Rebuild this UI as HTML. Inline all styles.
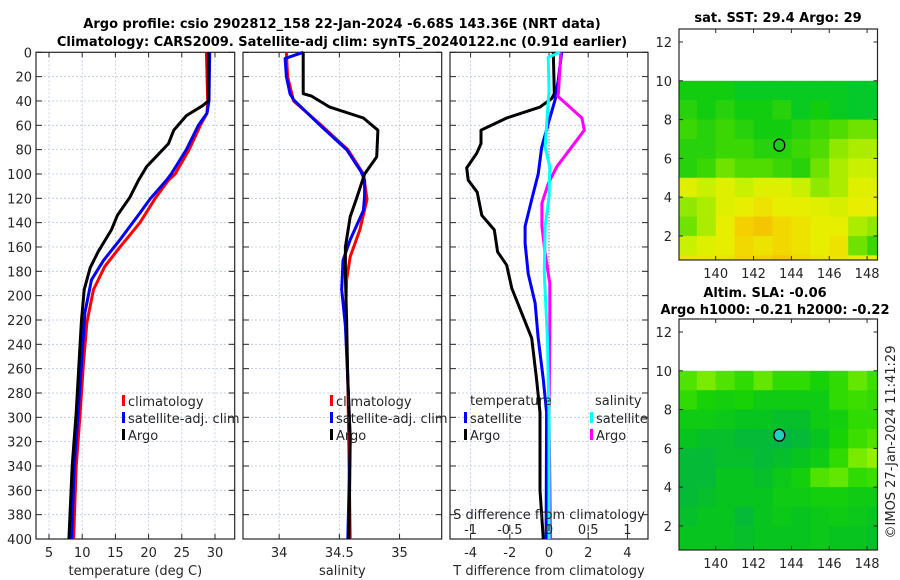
<!DOCTYPE html>
<html><head><meta charset="utf-8"><style>
html,body{margin:0;padding:0;background:#fff;}
svg{display:block;font-family:"DejaVu Sans","Liberation Sans",sans-serif;}
</style></head><body>
<svg id="c" width="900" height="580" viewBox="0 0 900 580"></svg>
<script>
// ---- data ----
const tDepth = [0,40,44,52,64,75,94,105,119,134,146,164,177,195,220,247,296,340,400];
const tArgo  = [29.0,29.0,28.1,25.7,23.8,23.0,19.7,18.5,17.2,15.3,14.4,12.4,11.2,10.3,9.9,9.6,9.1,8.5,8.0];
const tSatDepth = [0,40,50,60,80,100,105,120,132,154,171,187,214,255,296,340,400];
const tSat = [29.2,29.1,28.8,27.5,25.7,23.4,22.7,20.3,18.7,15.7,13.2,11.4,10.4,9.9,9.4,8.8,8.4];
const tClimDepth = [0,40,50,60,80,100,105,120,140,160,176,195,222,255,296,340,400];
const tClim = [28.7,28.9,28.8,27.8,26.1,24.0,23.0,21.0,18.7,15.7,13.4,11.7,10.7,10.2,9.7,9.1,8.7];
const sArgoDepth = [0,34,36,45,54,64,86,100,121,135,160,184,220,269,318,400];
const sArgo = [34.2,34.2,34.27,34.42,34.70,34.82,34.81,34.71,34.64,34.59,34.55,34.55,34.56,34.57,34.59,34.58];
const sSatDepth = [0,5,20,34,39,60,80,98,105,118,130,154,171,195,225,269,318,400];
const sSat = [34.2,34.05,34.06,34.09,34.12,34.34,34.56,34.68,34.71,34.71,34.70,34.59,34.53,34.52,34.55,34.57,34.59,34.57];
const sClimDepth = [0,20,40,60,80,100,121,146,168,187,220,269,400];
const sClim = [34.06,34.07,34.12,34.35,34.57,34.70,34.73,34.67,34.59,34.56,34.55,34.57,34.59];
const dArgoDepth = [0,34,38,45,54,64,75,83,95,105,115,134,146,164,175,194,235,269,296,360,400];
const dTArgo = [0.22,0.27,0.14,-0.46,-2.16,-3.47,-3.47,-3.69,-4.2,-4.12,-3.66,-3.43,-2.79,-2.62,-2.16,-1.9,-0.88,-0.63,-0.46,-0.46,-0.29];
const dTSatDepth = [0,23,39,58,78,100,119,143,157,182,206,235,269,296,400];
const dTSat = [0.65,0.47,0.31,-0.03,-0.37,-0.55,-0.85,-1.22,-1.22,-1.06,-0.71,-0.55,-0.29,-0.12,-0.15];
const dSSatDepth = [0,4,31,78,94,119,143,182,235,300,400];
const dSSat = [0.14,-0.01,0.0,-0.05,0.01,0.0,-0.05,-0.06,-0.02,0.0,0.0];
const dSArgoDepth = [0,34,36,54,64,94,108,124,143,165,190,235,300,400];
const dSArgo = [0.15,0.12,0.11,0.42,0.45,0.10,-0.01,-0.09,-0.09,-0.05,0.01,0.01,0.0,0.02];
const depthTicks = [0,20,40,60,80,100,120,140,160,180,200,220,240,260,280,300,320,340,360,380,400];
const tTicks = [5,10,15,20,25,30];
const sTicks = [34,34.5,35];
const dTTicks = [-4,-2,0,2,4];
const dSTicks = [-1,-0.5,0,0.5,1];
const mapLonTicks = [140,142,144,146,148];
const mapLatTicks = [2,4,6,8,10,12];
const mapLats = [10,9,8,7,6,5,4,3,2,1];   // top edge of each 1-deg row
const mapLons = [138,139,140,141,142,143,144,145,146,147,148];
const sstGrid = [
 [0.3,0.3,0.3,0.25,0.25,0.25,0.25,0.25,0.25,0.22,0.22],
 [0.35,0.3,0.35,0.3,0.3,0.35,0.25,0.3,0.25,0.22,0.22],
 [0.4,0.35,0.4,0.35,0.3,0.3,0.35,0.4,0.45,0.5,0.5],
 [0.35,0.35,0.4,0.4,0.35,0.35,0.4,0.45,0.55,0.6,0.6],
 [0.35,0.4,0.5,0.45,0.45,0.4,0.35,0.5,0.6,0.65,0.65],
 [0.7,0.65,0.7,0.65,0.7,0.7,0.65,0.55,0.6,0.7,0.7],
 [0.55,0.6,0.7,0.72,0.75,0.72,0.72,0.7,0.68,0.72,0.72],
 [0.5,0.6,0.72,0.8,0.82,0.78,0.75,0.72,0.72,0.6,0.55],
 [0.65,0.7,0.72,0.78,0.75,0.78,0.75,0.72,0.75,0.5,0.4],
 [0.75,0.75,0.75,0.8,0.8,0.82,0.78,0.75,0.75,0.72,0.72]];
const slaGrid = [
 [0.6,0.7,0.6,0.5,0.65,0.5,0.5,0.4,0.5,0.65,0.55],
 [0.5,0.4,0.35,0.4,0.3,0.3,0.3,0.3,0.5,0.55,0.5],
 [0.3,0.3,0.25,0.2,0.2,0.15,0.15,0.3,0.35,0.5,0.5],
 [0.2,0.15,0.15,0.1,0.1,0.05,0.1,0.2,0.4,0.55,0.6],
 [0.1,0.1,0.15,0.15,0.1,0.15,0.2,0.3,0.5,0.7,0.75],
 [0.1,0.1,0.2,0.2,0.15,0.25,0.35,0.6,0.65,0.5,0.55],
 [0.1,0.15,0.2,0.2,0.2,0.3,0.3,0.35,0.35,0.3,0.3],
 [0.15,0.2,0.2,0.1,0.2,0.25,0.2,0.25,0.3,0.25,0.2],
 [0.2,0.2,0.2,0.15,0.2,0.2,0.2,0.25,0.2,0.2,0.15],
 [0.2,0.2,0.2,0.15,0.2,0.2,0.2,0.25,0.2,0.2,0.15]];
const argoLon = 143.36, argoLat = 6.68;

// ---- helpers ----
const NS='http://www.w3.org/2000/svg';
const svg=document.getElementById('c');
function mk(tag,attrs,parent){const e=document.createElementNS(NS,tag);for(const k in attrs)e.setAttribute(k,attrs[k]);(parent||svg).appendChild(e);return e;}
function txt(s,x,y,o,parent){const e=mk('text',Object.assign({x:x,y:y,'font-size':13,fill:'#262626'},o||{}),parent);e.textContent=s;return e;}
const Y0=52.3, Y1=539;
const yD=d=>Y0+(d/400)*(Y1-Y0);
function lin(d0,d1,r0,r1){return v=>r0+(v-d0)/(d1-d0)*(r1-r0);}

function panel(name,x0,x1,xs,ticks,tickFmt,showY,xlabel){
  const g=mk('g',{});
  
  
  ticks.forEach(t=>{const x=xs(t);mk('line',{x1:x,x2:x,y1:Y0,y2:Y1,stroke:'#b8c4e0','stroke-width':0.8,'stroke-dasharray':'2,2'},g);
    mk('line',{x1:x,x2:x,y1:Y1,y2:Y1-5,stroke:'#262626'},g);mk('line',{x1:x,x2:x,y1:Y0,y2:Y0+5,stroke:'#262626'},g);
    const l=txt(tickFmt(t),x,Y1+18,{'text-anchor':'middle'},g);});
  depthTicks.forEach(d=>{const y=yD(d);mk('line',{x1:x0,x2:x1,y1:y,y2:y,stroke:'#b8c4e0','stroke-width':0.8,'stroke-dasharray':'2,2'},g);
    mk('line',{x1:x0,x2:x0+6,y1:y,y2:y,stroke:'#262626'},g);mk('line',{x1:x1,x2:x1-6,y1:y,y2:y,stroke:'#262626'},g);
    if(showY){const l=txt(String(d),x0-4,y+5,{'text-anchor':'end'},g);}});
  mk('rect',{x:x0,y:Y0,width:x1-x0,height:Y1-Y0,fill:'none',stroke:'#262626','stroke-width':1.2},g);
  const xl=txt(xlabel,(x0+x1)/2,Y1+36,{'text-anchor':'middle'},g);
  
  return g;
}
function series(name,vals,depths,xs,color,parent){
  const pts=vals.map((v,i)=>xs(v).toFixed(1)+','+yD(depths[i]).toFixed(1)).join(' ');
  const p=mk('polyline',{points:pts,fill:'none',stroke:color,'stroke-width':3,'stroke-linejoin':'round'},parent);
  
  
}
function legendEntry(name,label,x,y,color,parent){
  const g=mk('g',{},parent);
  
  
  mk('rect',{x:x,y:y-10,width:3,height:11,fill:color},g);
  txt(label,x+6,y+1,{},g);
}

// titles
const t1=txt('Argo profile: csio 2902812_158 22-Jan-2024 -6.68S 143.36E (NRT data)',342,28,{'text-anchor':'middle','font-weight':'bold','fill':'#000'});

const t2=txt('Climatology: CARS2009. Satellite-adj clim: synTS_20240122.nc (0.91d earlier)',342,46,{'text-anchor':'middle','font-weight':'bold','fill':'#000'});


// panel 1 temperature
const xT=lin(3.04,32.97,36,234.7);
const p1=panel('temperature-panel',36,234.7,xT,tTicks,String,true,'temperature (deg C)');
series('temp-climatology-line',tClim,tClimDepth,xT,'#ff0000',p1);
series('temp-satellite-line',tSat,tSatDepth,xT,'#0000ff',p1);
series('temp-argo-line',tArgo,tDepth,xT,'#000000',p1);
legendEntry('legend-climatology','climatology',122,405,'#ff0000',p1);
legendEntry('legend-satellite-adj','satellite-adj. clim',122,422,'#0000ff',p1);
legendEntry('legend-argo','Argo',122,439,'#000000',p1);

// panel 2 salinity
const xS=lin(33.7,35.35,243,441.7);
const p2=panel('salinity-panel',243,441.7,xS,sTicks,String,false,'salinity');
series('sal-climatology-line',sClim,sClimDepth,xS,'#ff0000',p2);
series('sal-satellite-line',sSat,sSatDepth,xS,'#0000ff',p2);
series('sal-argo-line',sArgo,sArgoDepth,xS,'#000000',p2);
legendEntry('legend-climatology-2','climatology',330,405,'#ff0000',p2);
legendEntry('legend-satellite-adj-2','satellite-adj. clim',330,422,'#0000ff',p2);
legendEntry('legend-argo-2','Argo',330,439,'#000000',p2);

// panel 3 differences
const xDT=lin(-5.05,5.05,450,648);
const xDS=lin(-1.2625,1.2625,450,648);
const p3=panel('difference-panel',450,648,xDT,dTTicks,String,false,'T difference from climatology');
mk('line',{x1:xDT(0),x2:xDT(0),y1:yD(0),y2:Y1,stroke:'#5a4a3a','stroke-width':1,'stroke-dasharray':'1,2'},p3);
series('dT-argo-line',dTArgo,dArgoDepth,xDT,'#000000',p3);
series('dT-satellite-line',dTSat,dTSatDepth,xDT,'#0000ff',p3);
series('dS-argo-line',dSArgo,dSArgoDepth,xDS,'#ff00ff',p3);
series('dS-satellite-line',dSSat,dSSatDepth,xDS,'#00ffff',p3);
const tl=txt('temperature',470,405,{},p3);
const sl=txt('salinity',595,405,{},p3);
legendEntry('legend-t-satellite','satellite',464,422,'#0000ff',p3);
legendEntry('legend-t-argo','Argo',464,439,'#000000',p3);
legendEntry('legend-s-satellite','satellite',590,422,'#00ffff',p3);
legendEntry('legend-s-argo','Argo',590,439,'#ff00ff',p3);
const sa=txt('S difference from climatology',549,519,{'text-anchor':'middle'},p3);

dSTicks.forEach(s=>{const x=xDS(s);mk('line',{x1:x,x2:x,y1:Y1-14,y2:Y1-8,stroke:'#262626'},p3);
  const l=txt(String(s),x,534,{'text-anchor':'middle'},p3);});

// maps
function cmapSST(v){const st=[[0.2,[0,200,50]],[0.3,[18,204,16]],[0.45,[80,220,0]],[0.55,[144,232,0]],[0.65,[200,240,0]],[0.72,[232,238,0]],[0.8,[244,208,0]],[0.9,[240,160,0]]];return interp(st,v);}
function cmapSLA(v){const st=[[0,[0,176,80]],[0.2,[8,196,30]],[0.4,[24,210,8]],[0.55,[60,222,0]],[0.7,[120,235,0]],[0.8,[176,242,0]]];return interp(st,v);}
function interp(st,v){if(v<=st[0][0])return 'rgb('+st[0][1]+')';for(let i=1;i<st.length;i++){if(v<=st[i][0]){const a=st[i-1],b=st[i],f=(v-a[0])/(b[0]-a[0]);return 'rgb('+a[1].map((c,k)=>Math.round(c+(b[1][k]-c)*f)).join(',')+')';}}return 'rgb('+st[st.length-1][1]+')';}
function drawMap(name,top,bottom,grid,cmap,dotColor,title){
  const g=mk('g',{});
  
  
  const L=679,R=877.5,lonMin=138.06,lonMax=148.55,latMax=12.67,latMin=0.76;
  const xl=lin(lonMin,lonMax,L,R), yl=lin(latMax,latMin,top,bottom);
  grid.forEach((row,i)=>row.forEach((v,j)=>{
    const la0=mapLats[i],la1=Math.max(mapLats[i]-1,latMin),lo0=Math.max(mapLons[j],lonMin),lo1=Math.min(mapLons[j]+1,lonMax);
    const c=mk('rect',{x:xl(lo0),y:yl(la0),width:xl(lo1)-xl(lo0)+0.5,height:yl(la1)-yl(la0)+0.5,fill:cmap(v)},g);
    
    
  }));
  mk('rect',{x:L,y:top,width:R-L,height:bottom-top,fill:'none',stroke:'#262626','stroke-width':1.2},g);
  mapLonTicks.forEach(t=>{const x=xl(t);mk('line',{x1:x,x2:x,y1:bottom,y2:bottom-4,stroke:'#262626'},g);mk('line',{x1:x,x2:x,y1:top,y2:top+4,stroke:'#262626'},g);
    const l=txt(String(t),x,bottom+18,{'text-anchor':'middle'},g);});
  mapLatTicks.forEach(t=>{const y=yl(t);mk('line',{x1:L,x2:L+4,y1:y,y2:y,stroke:'#262626'},g);mk('line',{x1:R,x2:R-4,y1:y,y2:y,stroke:'#262626'},g);
    const l=txt(String(t),L-7,y+5,{'text-anchor':'end'},g);});
  const d=mk('ellipse',{cx:xl(argoLon),cy:yl(argoLat),rx:5.5,ry:6,fill:dotColor,stroke:'#000','stroke-width':1.3},g);
  
  
  title.forEach((s,i)=>{const l=txt(s[0],s[1],s[2],{'text-anchor':'middle','font-weight':'bold','fill':'#000'},g);});
}
drawMap('sst-map',29,260,sstGrid,cmapSST,'#20c820',[['sat. SST: 29.4  Argo: 29',778,22]]);
drawMap('sla-map',319,550,slaGrid,cmapSLA,'#20d0c0',[['Altim. SLA: -0.06',765,297],['Argo h1000: -0.21 h2000: -0.22',775,314]]);

const cp=txt('©IMOS 27-Jan-2024 11:41:29',0,0,{'text-anchor':'middle','transform':'translate(895,442) rotate(-90)'});

</script>
</body></html>
